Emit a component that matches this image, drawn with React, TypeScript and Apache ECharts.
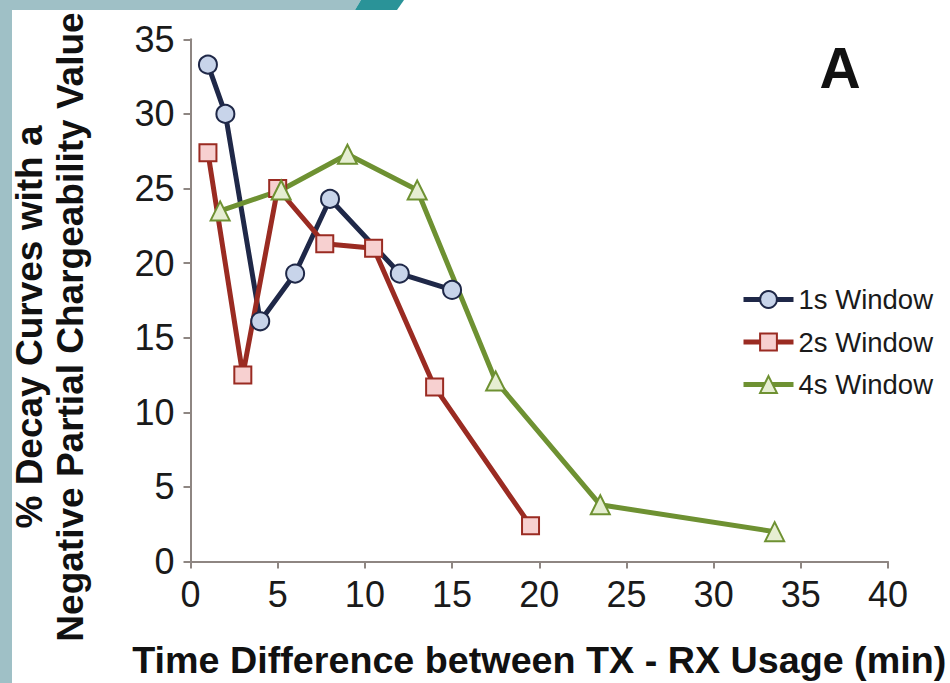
import React, { useEffect, useRef } from "react";
import * as echarts from "echarts";

const xTicks = [0, 5, 10, 15, 20, 25, 30, 35, 40];
const yTicks = [0, 5, 10, 15, 20, 25, 30, 35];

const seriesNames = ["1s Window", "2s Window", "4s Window"];

const x1s = [1, 2, 4, 6, 8, 12, 15];
const y1s = [33.3, 30.0, 16.1, 19.3, 24.3, 19.3, 18.2];

const x2s = [1, 3, 5, 7.7, 10.5, 14, 19.5];
const y2s = [27.4, 12.5, 25.0, 21.3, 21.0, 11.7, 2.4];

const x4s = [1.7, 5.2, 9, 13, 17.5, 23.5, 33.5];
const y4s = [23.5, 24.9, 27.3, 24.9, 12.1, 3.8, 2.0];

const xTitle = "Time Difference between TX - RX Usage (min)";
const yTitle1 = "% Decay Curves with a";
const yTitle2 = "Negative Partial Chargeability Value";
const panelLabel = "A";

const FONT = "'Liberation Sans', Arial, sans-serif";

function zip(xs: number[], ys: number[]) {
  return xs.map((x, i) => [x, ys[i]]);
}

export default function App() {
  const ref = useRef<HTMLDivElement>(null);
  useEffect(() => {
    if (!ref.current) return;
    const chart = echarts.init(ref.current, undefined, { renderer: "svg" });
    const axisColor = "#8e8682";
    const mk = (
      name: string,
      data: number[][],
      line: string,
      fill: string,
      symbol: string,
      size: number
    ) => ({
      name,
      type: "line",
      data,
      symbol,
      symbolSize: size,
      showAllSymbol: true,
      lineStyle: { color: line, width: 5 },
      itemStyle: { color: fill, borderColor: line, borderWidth: 2 },
      emphasis: { disabled: true },
    });
    chart.setOption({
      animation: false,
      backgroundColor: "#ffffff",
      textStyle: { fontFamily: FONT },
      grid: {
        left: 190.5,
        top: 39.3,
        right: 62,
        bottom: 121.5,
        containLabel: false,
        outerBoundsMode: "none",
      },
      legend: {
        data: seriesNames,
        orient: "vertical",
        left: 736,
        top: 280.5,
        itemWidth: 50,
        itemHeight: 21,
        itemGap: 14.5,
        lineStyle: { width: 5 },
        textStyle: { fontSize: 27.5, color: "#1a1a1a", fontFamily: FONT },
      },
      xAxis: {
        type: "value",
        min: xTicks[0],
        max: xTicks[xTicks.length - 1],
        interval: 5,
        name: xTitle,
        nameLocation: "middle",
        nameGap: 79,
        nameTextStyle: { fontSize: 37.7, fontWeight: "bold", color: "#111", fontFamily: FONT },
        axisLine: { lineStyle: { color: axisColor, width: 2 } },
        axisTick: { show: true, length: 7, lineStyle: { color: axisColor, width: 2 } },
        axisLabel: { fontSize: 36, color: "#1a1a1a", margin: 15, fontFamily: FONT },
        splitLine: { show: false },
      },
      yAxis: {
        type: "value",
        min: yTicks[0],
        max: yTicks[yTicks.length - 1],
        interval: 5,
        axisLine: { show: true, lineStyle: { color: axisColor, width: 2 } },
        axisTick: { show: true, length: 7, lineStyle: { color: axisColor, width: 2 } },
        axisLabel: {
          fontSize: 36,
          color: "#1a1a1a",
          margin: 16,
          fontFamily: FONT,
          padding: [0, 0, 12, 0],
        },
        splitLine: { show: false },
      },
      graphic: [
        { type: "rect", shape: { x: 0, y: 0, width: 12, height: 683 }, style: { fill: "#9fc0c6" }, z: 100 },
        {
          type: "polygon",
          shape: { points: [[0, 0], [361, 0], [355, 10], [0, 10]] },
          style: { fill: "#9fc0c6" },
          z: 100,
        },
        {
          type: "polygon",
          shape: { points: [[361, 0], [404, 0], [397, 10], [355, 10]] },
          style: { fill: "#2a9398" },
          z: 100,
        },
        {
          type: "text",
          x: 29,
          y: 327,
          rotation: Math.PI / 2,
          style: {
            text: yTitle1,
            fontSize: 37,
            fontWeight: "bold",
            fontFamily: FONT,
            fill: "#111",
            textAlign: "center",
            textVerticalAlign: "middle",
          },
          z: 50,
        },
        {
          type: "text",
          x: 70,
          y: 327,
          rotation: Math.PI / 2,
          style: {
            text: yTitle2,
            fontSize: 37,
            fontWeight: "bold",
            fontFamily: FONT,
            fill: "#111",
            textAlign: "center",
            textVerticalAlign: "middle",
          },
          z: 50,
        },
        {
          type: "text",
          x: 840,
          y: 68,
          style: {
            text: panelLabel,
            fontSize: 57,
            fontWeight: "bold",
            fontFamily: FONT,
            fill: "#111",
            textAlign: "center",
            textVerticalAlign: "middle",
          },
        },
      ],
      series: [
        mk(seriesNames[0], zip(x1s, y1s), "#1f2848", "#c8d4ea", "circle", 18),
        mk(seriesNames[1], zip(x2s, y2s), "#9a2b22", "#f7d0d0", "rect", 17),
        mk(seriesNames[2], zip(x4s, y4s), "#6e9132", "#e6eed2", "triangle", 19),
      ],
    });
    return () => chart.dispose();
  }, []);
  return (
    <div
      ref={ref}
      style={{ position: "fixed", left: 0, top: 0, width: 950, height: 683 }}
    />
  );
}
